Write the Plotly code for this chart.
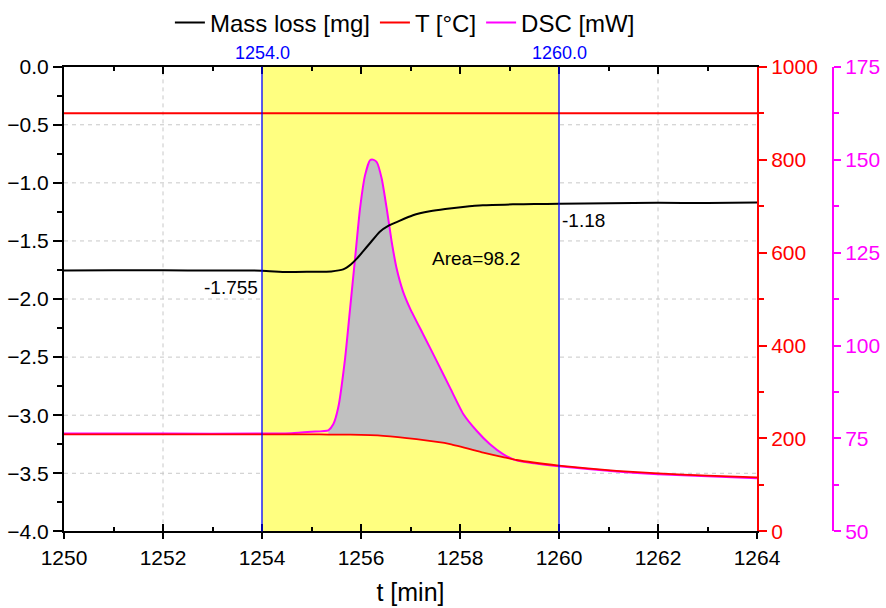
import plotly.graph_objects as go

# ---------------- data ----------------
mass_t = [1250, 1251, 1252, 1253, 1254, 1254.5, 1255, 1255.4, 1255.64, 1255.8, 1255.92,
          1256.05, 1256.18, 1256.38, 1256.55, 1256.73, 1257.05, 1257.39, 1257.7, 1258.06,
          1258.46, 1259.07, 1259.5, 1260, 1261, 1262, 1263, 1264]
mass_v = [-1.755, -1.752, -1.753, -1.754, -1.756, -1.768, -1.765, -1.762, -1.745, -1.70, -1.65,
          -1.585, -1.52, -1.42, -1.37, -1.336, -1.279, -1.245, -1.225, -1.208,
          -1.193, -1.185, -1.182, -1.18, -1.175, -1.172, -1.173, -1.17]

temp_t = [1250, 1252, 1254, 1256, 1258, 1260, 1262, 1264]
temp_v = [900, 900, 900, 900, 900, 900, 900, 900]

dsc_t = [1250, 1252, 1254, 1254.6, 1255.0, 1255.34, 1255.44, 1255.54, 1255.68, 1255.78,
         1255.88, 1255.98, 1256.08, 1256.18, 1256.24, 1256.32, 1256.42, 1256.52, 1256.62,
         1256.72, 1256.85, 1256.99, 1257.26, 1257.53, 1257.80, 1258.07, 1258.34, 1258.6,
         1258.87, 1259.14, 1259.5, 1260, 1261.16, 1262, 1263, 1264]
dsc_v = [76.3, 76.3, 76.3, 76.4, 76.8, 77.2, 78.8, 83.3, 96.7, 110.0,
         123.4, 136.8, 145.7, 149.8, 150.0, 149.3, 144.8, 136.8, 127.9,
         120.7, 114.5, 110.0, 102.9, 95.8, 88.6, 81.5, 77.0, 73.5,
         70.8, 69.1, 68.3, 67.5, 66.1, 65.4, 64.8, 64.3]

base_t = [1250, 1254, 1255, 1255.34, 1255.78, 1256.45, 1257.12, 1257.8, 1258.47, 1258.87,
          1259.14, 1260, 1261.16, 1262, 1263, 1264]
base_v = [76.1, 76.1, 76.1, 76.05, 76.0, 75.7, 74.8, 73.5, 71.2, 70.0,
          69.2, 67.7, 66.3, 65.6, 65.0, 64.5]

peak_start, peak_end = 1255.34, 1259.14
range_start, range_end = 1254.0, 1260.0
mass_start_label, mass_end_label = -1.755, -1.18
area_text = "Area=98.2"

x_range = [1250, 1264]
x_grid = [1252, 1256, 1258, 1262]
mass_range = [-4.0, 0.0]
mass_grid = [-0.5, -1.0, -1.5, -2.0, -2.5, -3.0, -3.5]
temp_range = [0, 1000]
dsc_range = [50, 175]

# ---------------- styles ----------------
FONT = "Liberation Sans, Arial, sans-serif"
RED = "#FF0000"
MAG = "#FF00FF"
BLUE = "#0000FF"
GRID = "#C8C8C8"

# fill polygon between DSC and baseline
fill_x = [t for t in dsc_t if peak_start <= t <= peak_end]
fill_y = [v for t, v in zip(dsc_t, dsc_v) if peak_start <= t <= peak_end]
bx = [t for t in base_t if peak_start <= t <= peak_end][::-1]
by = [v for t, v in zip(base_t, base_v) if peak_start <= t <= peak_end][::-1]

fig = go.Figure()

fig.add_trace(go.Scatter(x=fill_x + bx, y=fill_y + by, fill="toself", fillcolor="#C0C0C0",
                         line=dict(width=0), mode="lines", yaxis="y3", showlegend=False,
                         hoverinfo="skip"))
fig.add_trace(go.Scatter(x=dsc_t, y=dsc_v, mode="lines", name="DSC [mW]",
                         line=dict(color=MAG, width=2, shape="spline", smoothing=0.5),
                         yaxis="y3", legendrank=3))
fig.add_trace(go.Scatter(x=base_t, y=base_v, mode="lines",
                         line=dict(color=RED, width=1.8, shape="spline", smoothing=0.5),
                         yaxis="y3", showlegend=False))
fig.add_trace(go.Scatter(x=temp_t, y=temp_v, mode="lines", name="T [°C]",
                         line=dict(color=RED, width=2), yaxis="y2", legendrank=2))
fig.add_trace(go.Scatter(x=mass_t, y=mass_v, mode="lines", name="Mass loss [mg]",
                         line=dict(color="black", width=2, shape="spline", smoothing=0.5),
                         yaxis="y4", legendrank=1))
# carriers for the main subplot and the inner-tick overlay axis
fig.add_trace(go.Scatter(x=[None], y=[None], xaxis="x", yaxis="y", showlegend=False,
                         hoverinfo="skip"))
fig.add_trace(go.Scatter(x=[None], y=[None], xaxis="x2", yaxis="y", showlegend=False,
                         hoverinfo="skip"))

# grid (as shapes so the yellow range can cover it)
for xv in x_grid:
    fig.add_shape(type="line", xref="x", yref="y domain", x0=xv, x1=xv, y0=0, y1=1,
                  line=dict(color=GRID, width=1, dash="4px,4px"), layer="below")
for yv in mass_grid:
    fig.add_shape(type="line", xref="x domain", yref="y", x0=0, x1=1, y0=yv, y1=yv,
                  line=dict(color=GRID, width=1, dash="4px,4px"), layer="below")
fig.add_shape(type="rect", xref="x", yref="y domain", x0=range_start, x1=range_end, y0=0, y1=1,
              fillcolor="#FFFF80", line=dict(width=0), layer="below")

for xv in (range_start, range_end):
    fig.add_shape(type="line", xref="x", yref="y domain", x0=xv, x1=xv, y0=0, y1=1,
                  line=dict(color=BLUE, width=1.3))
    fig.add_annotation(x=xv, xref="x", y=1, yref="y domain", text=f"{xv:.1f}",
                       showarrow=False, yanchor="bottom", yshift=2,
                       font=dict(family=FONT, size=18, color=BLUE))

fig.add_annotation(x=range_start, y=mass_start_label, xref="x", yref="y", text=f"{mass_start_label}",
                   showarrow=False, xanchor="right", yanchor="top", xshift=-2, yshift=-4,
                   font=dict(family=FONT, size=19, color="black"))
fig.add_annotation(x=range_end, y=mass_end_label, xref="x", yref="y", text=f"{mass_end_label}",
                   showarrow=False, xanchor="left", yanchor="top", xshift=1, yshift=-4,
                   font=dict(family=FONT, size=19, color="black"))
fig.add_annotation(x=1258.32, y=-1.653, xref="x", yref="y", text=area_text, showarrow=False,
                   font=dict(family=FONT, size=19, color="black"))

XD = [64 / 886, 757 / 886]
YD = [1 - 531 / 608, 1 - 64 / 608]

fig.update_layout(
    width=886, height=608,
    margin=dict(l=0, r=0, t=0, b=0),
    paper_bgcolor="white", plot_bgcolor="white",
    font=dict(family=FONT, size=21, color="black"),
    showlegend=True,
    legend=dict(orientation="h", x=0.457, xanchor="center", y=0.967, yanchor="middle",
                font=dict(family=FONT, size=24), bgcolor="rgba(0,0,0,0)"),
    xaxis=dict(domain=XD, range=x_range, anchor="y", dtick=2, tick0=1250,
               ticks="outside", ticklen=6, tickwidth=1.5, tickcolor="black",
               showline=True, linecolor="black", linewidth=2, mirror=False,
               showgrid=False, zeroline=False, automargin=False,
               tickfont=dict(family=FONT, size=21),
               title=dict(text="t [min]", font=dict(family=FONT, size=25), standoff=16)),
    xaxis2=dict(domain=XD, range=x_range, overlaying="x", anchor="y", side="bottom",
                dtick=2, tick0=1250, ticks="inside", ticklen=7, tickwidth=1.5, tickcolor="black",
                minor=dict(dtick=1, ticks="inside", ticklen=4, tickwidth=1.5, tickcolor="black"),
                showline=True, linecolor="black", linewidth=2, mirror="ticks",
                showticklabels=False, showgrid=False, zeroline=False, automargin=False),
    yaxis=dict(domain=YD, range=mass_range, dtick=0.5, tick0=0, tickformat=".1f",
               ticks="outside", ticklen=9, tickwidth=1.5, tickcolor="black",
               minor=dict(dtick=0.25, ticks="outside", ticklen=5, tickwidth=1.5, tickcolor="black"),
               showline=True, linecolor="black", linewidth=2,
               showgrid=False, zeroline=False, automargin=False,
               tickfont=dict(family=FONT, size=21, color="black")),
    yaxis2=dict(range=temp_range, overlaying="y", side="right", anchor="x",
                dtick=200, tick0=0,
                ticks="outside", ticklen=8, tickwidth=1.5, tickcolor=RED,
                minor=dict(dtick=100, ticks="outside", ticklen=5, tickwidth=1.5, tickcolor=RED),
                showline=True, linecolor=RED, linewidth=2,
                showgrid=False, zeroline=False, automargin=False,
                tickfont=dict(family=FONT, size=21, color=RED)),
    yaxis3=dict(range=dsc_range, overlaying="y", side="right", anchor="free",
                position=833 / 886, dtick=25, tick0=50,
                ticks="outside", ticklen=7, tickwidth=1.5, tickcolor=MAG,
                minor=dict(dtick=12.5, ticks="outside", ticklen=5, tickwidth=1.5, tickcolor=MAG),
                showline=True, linecolor=MAG, linewidth=2,
                showgrid=False, zeroline=False, automargin=False,
                tickfont=dict(family=FONT, size=21, color=MAG)),
    yaxis4=dict(range=mass_range, overlaying="y", anchor="x", visible=False,
                showgrid=False, zeroline=False),
)

fig.write_html("out.html", config={"displayModeBar": False},
               post_script="document.body.style.margin='0';document.body.style.overflow='hidden';")
